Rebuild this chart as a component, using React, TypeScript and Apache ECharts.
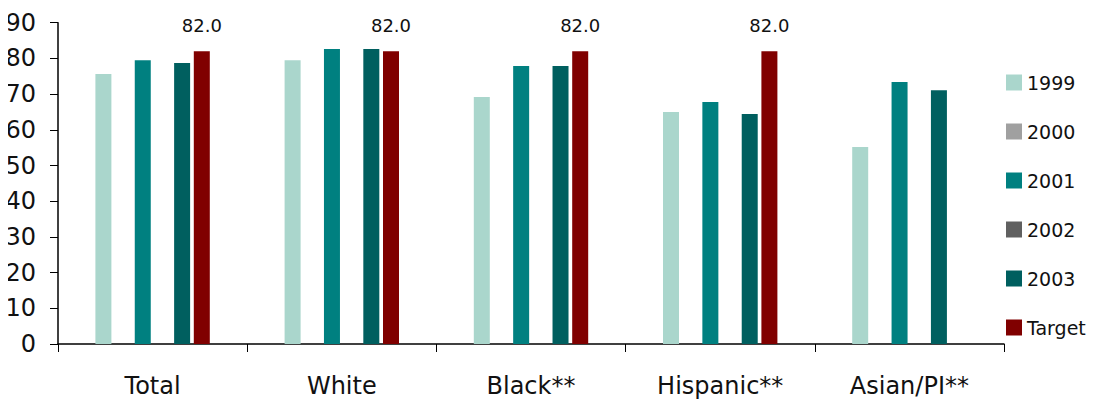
import React, { useEffect, useRef } from "react";
import * as echarts from "echarts";

const categories = ["Total", "White", "Black**", "Hispanic**", "Asian/PI**"];
const seriesNames = ["1999", "2000", "2001", "2002", "2003", "Target"];
const v1999 = [75.6, 79.5, 69.2, 65.0, 55.2];
const v2000: (number | null)[] = [null, null, null, null, null];
const v2001 = [79.5, 82.6, 77.9, 67.8, 73.4];
const v2002: (number | null)[] = [null, null, null, null, null];
const v2003 = [78.7, 82.6, 77.9, 64.4, 71.1];
const vTarget: (number | null)[] = [82.0, 82.0, 82.0, 82.0, null];
const yTicks = [0, 10, 20, 30, 40, 50, 60, 70, 80, 90];

const colors = ["#aad6cc", "#a0a0a0", "#008080", "#606060", "#005f5f", "#800000"];
const FONT = "DejaVu Sans";

export default function App() {
  const ref = useRef<HTMLDivElement>(null);
  useEffect(() => {
    if (!ref.current) return;
    const chart = echarts.init(ref.current, null, { renderer: "svg" });
    const data = [v1999, v2000, v2001, v2002, v2003, vTarget];
    chart.setOption({
      animation: false,
      grid: { left: 58, top: 22.7, bottom: 56, right: 95, containLabel: false },
      legend: {
        orient: "vertical",
        left: 1006,
        top: 73,
        padding: 0,
        itemWidth: 16,
        itemHeight: 16,
        itemGap: 30,
        icon: "rect",
        data: seriesNames,
        textStyle: { fontFamily: FONT, fontSize: 19, color: "#111" },
        selectedMode: false,
      },
      xAxis: {
        type: "category",
        data: categories,
        axisLine: { lineStyle: { color: "#000", width: 1.5 } },
        axisTick: { show: true, length: 8, lineStyle: { color: "#000" } },
        axisLabel: { fontFamily: FONT, fontSize: 24, color: "#111", margin: 30 },
      },
      yAxis: {
        type: "value",
        min: yTicks[0],
        max: yTicks[yTicks.length - 1],
        interval: 10,
        splitLine: { show: false },
        axisLine: { show: true, lineStyle: { color: "#000", width: 1.5 } },
        axisTick: { show: true, length: 8, lineStyle: { color: "#000" } },
        axisLabel: { fontFamily: FONT, fontSize: 24, color: "#111", margin: 22 },
      },
      series: seriesNames.map((name, i) => ({
        name,
        type: "bar",
        data: data[i],
        barWidth: 16,
        barGap: "23%",
        itemStyle: { color: colors[i] },
        label:
          name === "Target"
            ? {
                show: true,
                position: "top",
                distance: 17,
                formatter: (p: any) => (p.value == null ? "" : Number(p.value).toFixed(1)),
                fontFamily: FONT,
                fontSize: 18,
                color: "#111",
              }
            : { show: false },
      })),
    });
    return () => chart.dispose();
  }, []);
  return <div ref={ref} style={{ width: 1099, height: 400, marginLeft: -8, marginTop: -8 }} />;
}
